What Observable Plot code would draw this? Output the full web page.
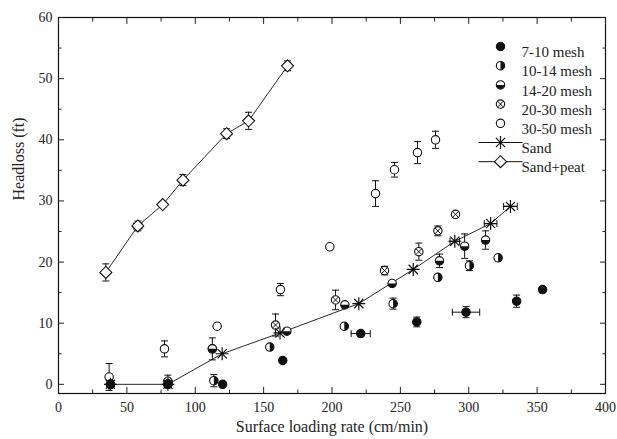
<!DOCTYPE html>
<html><head><meta charset="utf-8">
<script src="https://cdn.jsdelivr.net/npm/d3@7"></script>
<script src="https://cdn.jsdelivr.net/npm/@observablehq/plot@0.6"></script>
<style>body{margin:0;background:#fff} svg{display:block} svg text{font-family:"Liberation Serif","Times New Roman",serif !important;}</style>
</head><body><div id="chart"></div>
<script>
// [x (cm/min), headloss (ft), y error, x error]
const mesh7_10 = [[38,0],[80,0],[120,0],[164,3.9],[221,8.3,0,7],[262,10.2,0.8],[298,11.8,0.9,10],[335,13.6,1],[354,15.5]];
const mesh10_14 = [[38,0],[80,0],[113.6,0.6,1],[154.5,6.1],[209,9.5],[244.7,13.2,0.9],[277.4,17.5],[300.5,19.4,0.8],[321.5,20.7]];
const mesh14_20 = [[38,0],[80,0],[112.5,5.8],[167,8.7],[209.4,13.0],[244,16.5],[278.6,20.2,1.1],[297,22.6,2],[312.3,23.6,1.5]];
const mesh20_30 = [[38,0],[80,0.5,1],[112.5,5.8,1.8],[158.7,9.7,1.8],[202.6,13.8,1.6],[238.4,18.6,0.7],[263.5,21.7,1.4],[277.4,25.1,0.8],[290.3,27.8]];
const mesh30_50 = [[37,1.2,2.2],[77.5,5.8,1.3],[116,9.5],[162.3,15.5,1],[198.4,22.5],[231.8,31.2,2.1],[245.7,35.1,1.2],[262.5,37.9,1.8],[275.7,40,1.4]];
const sand = [[38,0],[80,0],[119.7,5.0],[162,8.4],[219.6,13.2],[259.4,18.8],[289.8,23.4,0,3.5],[316,26.3,0,4.6],[330.5,29.1,0,5]];
const sandPeat = [[34.6,18.3,1.4],[58,25.9,0.8,3],[76.2,29.4,0.5],[91,33.4,0.9],[122.9,41,0.8],[139,43.1,1.4],[167.5,52.1,0.8]];

const legendLabels = ["7-10 mesh","10-14 mesh","14-20 mesh","20-30 mesh","30-50 mesh","Sand","Sand+peat"];
const xMajor = [0,50,100,150,200,250,300,350,400];
const xMinor = [25,75,125,175,225,275,325,375];
const yMajor = [0,10,20,30,40,50,60];
const yMinor = [5,15,25,35,45,55];

const rows = (arr) => arr.map(([x,y,ye=0,xe=0]) => ({x,y,ye,xe}));
const S = {
  m710: rows(mesh7_10), m1014: rows(mesh10_14), m1420: rows(mesh14_20),
  m2030: rows(mesh20_30), m3050: rows(mesh30_50), sand: rows(sand), peat: rows(sandPeat)
};
const all = Object.values(S).flat();

const rad = (size) => Math.sqrt(size / Math.PI);
const hcap = {draw(c){c.moveTo(-3.5,0);c.lineTo(3.5,0);}};
const vcap = {draw(c){c.moveTo(0,-3.5);c.lineTo(0,3.5);}};
const rightHalf = {draw(c,s){const r=rad(s);c.moveTo(0,-r);c.arc(0,0,r,-Math.PI/2,Math.PI/2);c.closePath();}};
const bottomHalf = {draw(c,s){const r=rad(s);c.moveTo(r,0);c.arc(0,0,r,0,Math.PI);c.closePath();}};
const xCross = {draw(c,s){const r=rad(s)*0.72;c.moveTo(-r,-r);c.lineTo(r,r);c.moveTo(-r,r);c.lineTo(r,-r);}};
const star8 = {draw(c,s){const r=rad(s);for(let i=0;i<4;i++){const a=i*Math.PI/4;c.moveTo(-r*Math.cos(a),-r*Math.sin(a));c.lineTo(r*Math.cos(a),r*Math.sin(a));}}};
const diamond = {draw(c,s){const r=rad(s);c.moveTo(0,-r);c.lineTo(r,0);c.lineTo(0,r);c.lineTo(-r,0);c.closePath();}};
const legLine = {draw(c){c.moveTo(-22,0);c.lineTo(22,0);}};

const R = 4.2;
const K = "#111";
function symMarks(data, kind, pos) {
  const o = pos || {x:"x", y:"y"};
  const base = {...o, r:R, stroke:K, strokeWidth:1.1};
  switch(kind){
    case "full": return [Plot.dot(data,{...base, fill:K, symbol:"circle"})];
    case "open": return [Plot.dot(data,{...base, fill:"white", symbol:"circle"})];
    case "right": return [Plot.dot(data,{...base, fill:"white", symbol:"circle"}), Plot.dot(data,{...o, r:R, fill:K, stroke:"none", symbol:rightHalf})];
    case "bottom": return [Plot.dot(data,{...base, fill:"white", symbol:"circle"}), Plot.dot(data,{...o, r:R, fill:K, stroke:"none", symbol:bottomHalf})];
    case "xc": return [Plot.dot(data,{...base, fill:"white", symbol:"circle"}), Plot.dot(data,{...o, r:R, fill:"none", stroke:K, strokeWidth:1, symbol:xCross})];
    case "star": return [Plot.dot(data,{...o, r:6.5, fill:"none", stroke:K, strokeWidth:1.2, symbol:star8})];
    case "diamond": return [Plot.dot(data,{...o, r:6, fill:"white", stroke:K, strokeWidth:1.1, symbol:diamond})];
  }
}

const kinds = ["full","right","bottom","xc","open","star","diamond"];
const legendMarks = legendLabels.flatMap((lab,i) => {
  const dy = 29 + 19.2*i;
  const pos = {frameAnchor:"top-left", dx:442, dy};
  const m = [];
  if (i >= 5) m.push(Plot.dot([0], {...pos, symbol:legLine, stroke:K, strokeWidth:1}));
  m.push(...symMarks([0], kinds[i], pos));
  m.push(Plot.text([lab], {frameAnchor:"top-left", dx:463, dy, text:d=>d, textAnchor:"start", fontSize:15, fill:"#222"}));
  return m;
});

const ye = all.filter(d => d.ye > 0);
const xe = all.filter(d => d.xe > 0);

const chart = Plot.plot({
  width:617, height:439,
  marginLeft:58, marginRight:12, marginTop:17, marginBottom:46,
  x:{domain:[0,400], label:null},
  y:{domain:[-1.5,60], label:null},
  style:{fontFamily:"'Liberation Serif','Times New Roman',serif", fontSize:"14px", color:"#222", background:"white"},
  marks:[
    Plot.frame({stroke:K, strokeWidth:1.2}),
    Plot.axisX(xMajor,{anchor:"bottom", tickSize:-6, tickFormat:()=>"", label:null}),
    Plot.axisX(xMinor,{anchor:"bottom", tickSize:-3.5, tickFormat:()=>"", label:null}),
    Plot.axisX(xMajor,{anchor:"top", tickSize:-6, tickFormat:()=>"", label:null}),
    Plot.axisX(xMinor,{anchor:"top", tickSize:-3.5, tickFormat:()=>"", label:null}),
    Plot.axisY(yMajor,{anchor:"left", tickSize:-6, tickFormat:()=>"", label:null}),
    Plot.axisY(yMinor,{anchor:"left", tickSize:-3.5, tickFormat:()=>"", label:null}),
    Plot.axisY(yMajor,{anchor:"right", tickSize:-6, tickFormat:()=>"", label:null}),
    Plot.axisY(yMinor,{anchor:"right", tickSize:-3.5, tickFormat:()=>"", label:null}),
    Plot.axisX(xMajor,{anchor:"bottom", tickSize:0, tickPadding:9, fontSize:14, label:null}),
    Plot.axisY(yMajor,{anchor:"left", tickSize:0, tickPadding:6, fontSize:14, label:null}),
    Plot.text(["Surface loading rate (cm/min)"],{frameAnchor:"bottom", dy:38, text:d=>d, fontSize:16, fill:"#222"}),
    Plot.text(["Headloss (ft)"],{frameAnchor:"left", dx:-40, dy:-5, rotate:-90, text:d=>d, fontSize:16, fill:"#222"}),
    Plot.line(S.sand,{x:"x", y:"y", stroke:K, strokeWidth:0.9}),
    Plot.line(S.peat,{x:"x", y:"y", stroke:K, strokeWidth:0.9}),
    Plot.ruleX(ye,{x:"x", y1:d=>d.y-d.ye, y2:d=>d.y+d.ye, stroke:K, strokeWidth:1}),
    Plot.dot(ye,{x:"x", y:d=>d.y+d.ye, symbol:hcap, stroke:K, strokeWidth:1}),
    Plot.dot(ye,{x:"x", y:d=>d.y-d.ye, symbol:hcap, stroke:K, strokeWidth:1}),
    Plot.ruleY(xe,{y:"y", x1:d=>d.x-d.xe, x2:d=>d.x+d.xe, stroke:K, strokeWidth:1}),
    Plot.dot(xe,{y:"y", x:d=>d.x+d.xe, symbol:vcap, stroke:K, strokeWidth:1}),
    Plot.dot(xe,{y:"y", x:d=>d.x-d.xe, symbol:vcap, stroke:K, strokeWidth:1}),
    ...symMarks(S.m3050,"open"),
    ...symMarks(S.m2030,"xc"),
    ...symMarks(S.m1420,"bottom"),
    ...symMarks(S.m1014,"right"),
    ...symMarks(S.m710,"full"),
    ...symMarks(S.sand,"star"),
    ...symMarks(S.peat,"diamond"),
    ...legendMarks
  ]
});
document.getElementById("chart").appendChild(chart);
</script>
</body></html>
